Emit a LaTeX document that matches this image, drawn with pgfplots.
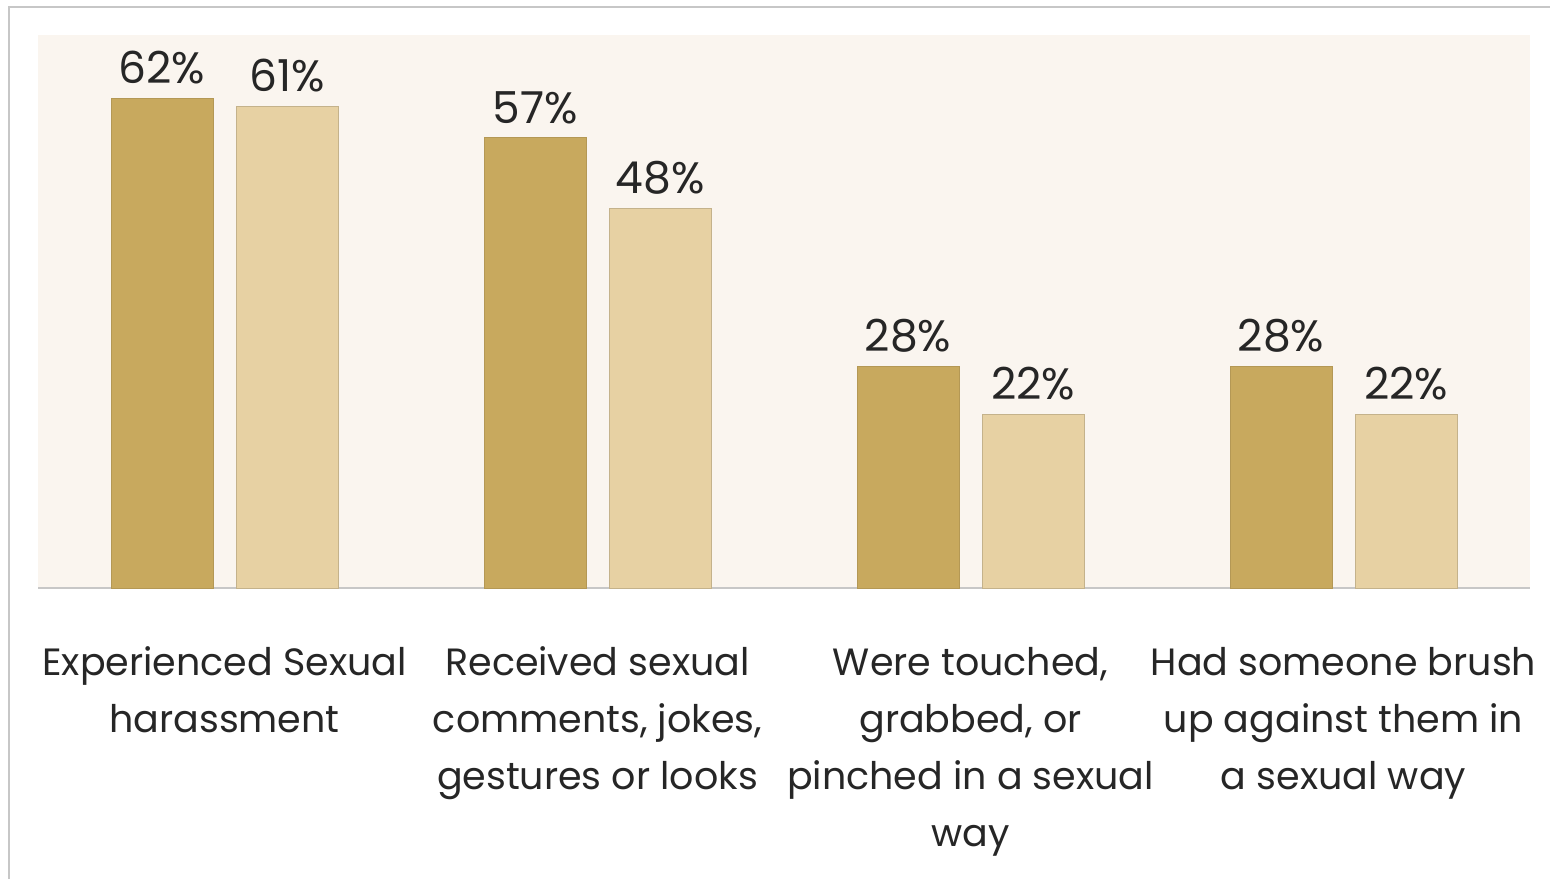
\documentclass[border=0pt]{standalone}
\usepackage{pgfplots}
\pgfplotsset{compat=1.18}
\usepackage{fontspec}
\setmainfont{Poppins}
\definecolor{darkbar}{HTML}{C8A95E}
\definecolor{lightbar}{HTML}{E7D1A3}
\definecolor{bgc}{HTML}{FAF5EF}
\definecolor{txt}{HTML}{262626}
\begin{document}
\begin{tikzpicture}[x=1pt,y=1pt]
\useasboundingbox (0,0) rectangle (775,439.5);
\draw[draw=black!22, line width=1.2pt] (4.5,0) -- (4.5,436) -- (775,436);
\begin{axis}[
  at={(19pt,145.5pt)}, anchor=south west,
  scale only axis,
  width=746pt, height=276.5pt,
  xmin=-0.5, xmax=3.5, ymin=0, ymax=70,
  enlarge x limits=false,
  ybar=11.5pt, bar width=51pt,
  axis background/.style={fill=bgc},
  axis y line=none,
  axis x line*=bottom,
  x axis line style={draw=black!22, line width=1pt, -},
  xtick=data, major tick length=0pt,
  xticklabels={{Experienced Sexual\\harassment},{Received sexual\\comments, jokes,\\gestures or looks},{Were touched,\\grabbed, or\\pinched in a sexual\\way},{Had someone brush\\up against them in\\a sexual way}},
  xticklabel style={align=center, font=\fontsize{19}{28.5}\selectfont, text=txt, yshift=-26pt, anchor=north},
  /pgf/number format/assume math mode=true,
  nodes near coords={\pgfmathprintnumber{\pgfplotspointmeta}\%},
  nodes near coords style={font=\fontsize{22}{24}\selectfont, text=txt, yshift=3.5pt},
  clip=false,
]
\addplot[fill=darkbar, draw=darkbar!90!black, line width=0.4pt] coordinates {(0,62) (1,57) (2,28) (3,28)};
\addplot[fill=lightbar, draw=lightbar!85!black, line width=0.4pt] coordinates {(0,61) (1,48) (2,22) (3,22)};
\end{axis}
\end{tikzpicture}
\end{document}
